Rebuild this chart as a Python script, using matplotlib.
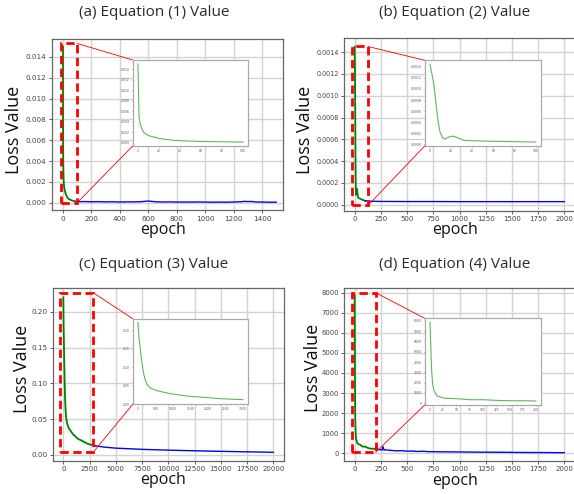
import matplotlib
matplotlib.use("Agg")
import matplotlib.pyplot as plt
from matplotlib.patches import Rectangle, ConnectionPatch

W, H = 574, 494

# ---------------- data ----------------
titles = ["(a) Equation (1) Value", "(b) Equation (2) Value",
          "(c) Equation (3) Value", "(d) Equation (4) Value"]

# (a)
a_green_x = [0, 1, 2.5, 5.6, 10, 21, 34, 46, 65, 100]
a_green_y = [0.0150, 0.0049, 0.0032, 0.0019, 0.00133, 0.00076, 0.00044, 0.00032, 0.00020, 0.00010]
a_blue_x = [100, 150, 200, 250, 300, 350, 400, 450, 500, 550, 580, 600, 620, 650, 700, 750, 800,
            850, 900, 950, 1000, 1050, 1100, 1150, 1200, 1250, 1280, 1300, 1330, 1350, 1400, 1450, 1500]
a_blue_y = [0.00010, 0.00011, 0.00009, 0.00010, 0.00008, 0.00009, 0.00007, 0.00008, 0.00008, 0.00010,
            0.00014, 0.00016, 0.00013, 0.00009, 0.00007, 0.00008, 0.00006, 0.00007, 0.00006, 0.00007,
            0.00006, 0.00005, 0.00006, 0.00005, 0.00007, 0.00009, 0.00013, 0.00011, 0.00012, 0.00008,
            0.00006, 0.00005, 0.00005]

# (b)
b_green_x = [0, 3.2, 4.8, 6.3, 7.9, 9.5, 12, 14.3, 17.5, 22, 27, 32, 41, 67, 100]
b_green_y = [0.00145, 0.00114, 0.00090, 0.00062, 0.00038, 0.00022, 0.00011, 0.00009, 0.000127,
             0.000145, 0.00011, 0.000067, 0.00006, 0.000048, 0.000036]
b_blue_x = [100, 150, 250, 500, 750, 1000, 1250, 1500, 1750, 2000]
b_blue_y = [0.000036, 0.000032, 0.000030, 0.000029, 0.000029, 0.000028, 0.000028, 0.000028, 0.000028, 0.000028]

# (c)
c_green_x = [0, 28, 75, 123, 170, 217, 264, 358, 547, 925, 1396, 1868, 2340, 3000]
c_green_y = [0.2205, 0.182, 0.1415, 0.106, 0.0795, 0.063, 0.0527, 0.0437, 0.0366, 0.0286,
             0.0223, 0.0188, 0.0152, 0.0125]
c_blue_x = [3000, 4000, 5000, 7500, 10000, 12500, 15000, 17500, 20000]
c_blue_y = [0.0125, 0.0105, 0.0092, 0.0075, 0.0064, 0.0055, 0.0047, 0.0040, 0.0034]

# (d)
d_green_x = [0, 1.3, 3.2, 5, 7.7, 12.8, 25.6, 51, 77, 102, 128, 153, 179, 200]
d_green_y = [7870, 5780, 3170, 1860, 1210, 720, 490, 425, 330, 330, 260, 230, 230, 200]
d_blue_x = [200, 210, 220, 240, 260, 270, 280, 300, 350, 400, 450, 500, 550, 600, 650, 700, 800,
            900, 1000, 1100, 1200, 1300, 1400, 1500, 1600, 1700, 1800, 1900, 2000]
d_blue_y = [200, 400, 180, 190, 150, 330, 160, 170, 140, 120, 130, 105, 110, 90, 100, 80, 75,
            70, 65, 60, 55, 52, 50, 45, 40, 38, 35, 32, 30]

# zoom boxes: (x0, y0, x1, y1)
boxes = [(-15, 0.0, 100, 0.0153),
         (-30, -0.000006, 127, 0.001452),
         (-300, 0.0034, 2850, 0.227),
         (-30, 50, 200, 8000)]

# ---------------- layout (pixels) ----------------
main_px = [(52.3, 39.3, 283.3, 210.0),
           (344.2, 38.0, 574.8, 210.7),
           (52.8, 288.3, 283.8, 460.7),
           (344.2, 288.3, 574.8, 460.7)]
inset_px = [(132.7, 60.0, 248.3, 146.0),
            (424.7, 60.3, 541.0, 146.0),
            (132.7, 318.7, 248.3, 404.3),
            (424.7, 318.3, 541.0, 405.0)]
xlims = [(-75, 1550), (-100, 2100), (-1000, 21000), (-100, 2100)]
ylims = [(-0.0007, 0.0157), (-0.000055, 0.00153), (-0.0084, 0.2332), (-370, 8220)]
xticks = [[0, 200, 400, 600, 800, 1000, 1200, 1400],
          [0, 250, 500, 750, 1000, 1250, 1500, 1750, 2000],
          [0, 2500, 5000, 7500, 10000, 12500, 15000, 17500, 20000],
          [0, 250, 500, 750, 1000, 1250, 1500, 1750, 2000]]
yfmt = ["{:.3f}", "{:.4f}", "{:.2f}", "{:.0f}"]
yticks = [[0, 0.002, 0.004, 0.006, 0.008, 0.010, 0.012, 0.014],
          [0, 0.0002, 0.0004, 0.0006, 0.0008, 0.0010, 0.0012, 0.0014],
          [0, 0.05, 0.10, 0.15, 0.20],
          [0, 1000, 2000, 3000, 4000, 5000, 6000, 7000, 8000]]
inset_xticks = [[0, 20, 40, 60, 80, 100], [0, 20, 40, 60, 80, 100],
                [0, 500, 1000, 1500, 2000, 2500, 3000],
                [0, 25, 50, 75, 100, 125, 150, 175, 200]]
tick_sizes = [(5.2, 5.2), (5.0, 4.7), (5.0, 5.2), (5.0, 4.9)]
title_pos = [(154, 13), (455, 13), (154, 265), (455, 265)]
ylabel_pos = [(14.5, 130), (305.5, 130), (22.5, 369), (313, 368)]
xlabel_pos = [(163, 230), (455, 230), (163, 480), (455, 481)]

greens = [(a_green_x, a_green_y), (b_green_x, b_green_y), (c_green_x, c_green_y), (d_green_x, d_green_y)]
blues = [(a_blue_x, a_blue_y), (b_blue_x, b_blue_y), (c_blue_x, c_blue_y), (d_blue_x, d_blue_y)]

TXT_FONT = ["Open Sans", "DejaVu Sans"]

fig = plt.figure(figsize=(W / 100, H / 100), dpi=100)


def rect(px):
    l, t, r, b = px
    return [l / W, 1 - b / H, (r - l) / W, (b - t) / H]


for i in range(4):
    ax = fig.add_axes(rect(main_px[i]))
    gx, gy = greens[i]
    bx, by = blues[i]
    ax.plot(gx, gy, color="green", lw=1.3, zorder=3)
    ax.plot(bx, by, color="blue", lw=1.0, zorder=3)
    ax.set_xlim(*xlims[i])
    ax.set_ylim(*ylims[i])
    ax.set_xticks(xticks[i])
    ax.set_yticks(yticks[i])
    ax.set_yticklabels([yfmt[i].format(v) for v in yticks[i]])
    ax.grid(True, color="#d3d3d3", lw=1.0)
    ax.set_axisbelow(True)
    ax.tick_params(colors="#444444", length=2, width=0.6, pad=2)
    ax.tick_params(axis="x", labelsize=tick_sizes[i][0])
    ax.tick_params(axis="y", labelsize=tick_sizes[i][1])
    for s in ax.spines.values():
        s.set_color("#666666")
        s.set_linewidth(0.9)

    x0, y0, x1, y1 = boxes[i]
    ax.add_patch(Rectangle((x0, y0), x1 - x0, y1 - y0, fill=False, ec="red",
                           lw=2.0, ls=(0, (3, 1.6)), zorder=4))

    ins = fig.add_axes(rect(inset_px[i]))
    ins.set_zorder(5)
    ins.patch.set_facecolor("white")
    ix, iy = greens[i]
    ins.plot(ix, iy, color="#5cb85c", lw=0.8)
    ins.set_xticks(inset_xticks[i])
    ins.set_yticks(yticks[i])
    ins.set_yticklabels([yfmt[i].format(v) for v in yticks[i]])
    ins.tick_params(labelsize=2.2, colors="#555555", length=1, width=0.4, pad=1)
    for s in ins.spines.values():
        s.set_color("#aaaaaa")
        s.set_linewidth(0.9)

    for (xa, ya), (xb, yb) in [((x1, y1), (0, 1)), ((x1, y0), (0, 0))]:
        con = ConnectionPatch(xyA=(xa, ya), coordsA=ax.transData,
                              xyB=(xb, yb), coordsB=ins.transAxes,
                              color="red", lw=0.6)
        con.set_zorder(6)
        fig.add_artist(con)

    tx, ty = title_pos[i]
    fig.text(tx / W, 1 - ty / H, titles[i], ha="center", va="center",
             fontsize=11, family=TXT_FONT, color="#2a2a2a")
    lx, ly = ylabel_pos[i]
    fig.text(lx / W, 1 - ly / H, "Loss Value", ha="center", va="center",
             rotation=90, fontsize=13, family=TXT_FONT, color="#111111")
    ex, ey = xlabel_pos[i]
    fig.text(ex / W, 1 - ey / H, "epoch", ha="center", va="center",
             fontsize=11.5, family=TXT_FONT, color="#111111")

fig.savefig("out.png", dpi=100)
